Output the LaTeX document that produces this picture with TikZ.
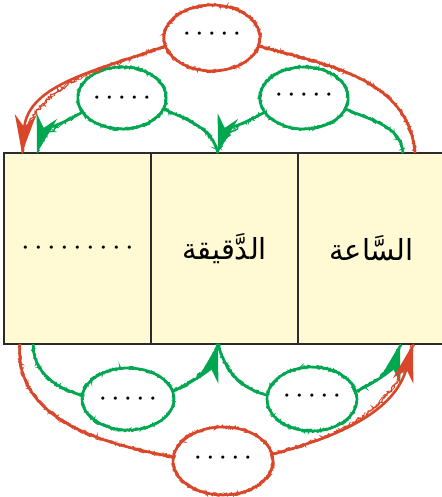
\documentclass[tikz,border=0pt]{standalone}
\usepackage{fontspec}
\newfontfamily\arabicfont[Script=Arabic]{DejaVu Sans}
\TeXXeTstate=1
\usetikzlibrary{shapes.geometric,decorations.pathmorphing,arrows.meta}
\definecolor{myred}{HTML}{D9472B}
\definecolor{mygreen}{HTML}{00A650}
\definecolor{cellfill}{HTML}{FFF9D4}
\definecolor{border}{HTML}{2B2B2B}
\newcommand\bdot[1]{\makebox[#1]{\fontsize{12}{12}\selectfont\textbullet}}
\newcommand\fivedots{\bdot{12.5pt}\bdot{12.5pt}\bdot{12.5pt}\bdot{12.5pt}\bdot{12.5pt}}
\newcommand\ninedots{\bdot{13pt}\bdot{13pt}\bdot{13pt}\bdot{13pt}\bdot{13pt}\bdot{13pt}\bdot{13pt}\bdot{13pt}\bdot{13pt}}
\newcommand\artext[1]{{\arabicfont\fontsize{29}{34}\selectfont\beginR #1\endR}}
\tikzset{
 rough/.style={decorate, decoration={random steps, segment length=1.5pt, amplitude=1.7pt}},
 rough2/.style={decorate, decoration={random steps, segment length=2pt, amplitude=2.1pt}},
 blob/.style={ellipse, inner sep=0pt, line width=2.6pt, postaction={draw, rough, line width=1.2pt}, postaction={draw, rough2, line width=0.7pt}},
 redblob/.style={blob, draw=myred},
 greenblob/.style={blob, draw=mygreen},
 link/.style={line width=2.6pt, postaction={draw, rough, -, line width=1.2pt}, postaction={draw, rough2, -, line width=0.7pt}},
 redlink/.style={link, draw=myred},
 greenlink/.style={link, draw=mygreen},
 tip/.style={-{Stealth[length=38pt,width=21pt,inset=12pt]}},
 cell/.style={rectangle, draw=border, line width=1.4pt, fill=cellfill, minimum width=147pt, minimum height=191pt, inner sep=0pt},
}
\begin{document}
\begin{tikzpicture}[x=1pt,y=1pt]
\useasboundingbox (0,0) rectangle (441,497);
% table cells
\node[cell] (c1) at (77.5,248.5) {\ninedots};
\node[cell] (c2) at (224.5,248.5) {\artext{الدَّقيقة}};
\node[cell] (c3) at (371.5,248.5) {\artext{السَّاعة}};
% end points on the table
\coordinate (rt1) at (415,344);
\coordinate (rt2) at (22,344);
\coordinate (gt1) at (403,344);
\coordinate (gt2) at (218,344);
\coordinate (gt3) at (37,344);
\coordinate (rb1) at (20,153);
\coordinate (rb2) at (413,153);
\coordinate (gb1) at (33,153);
\coordinate (gb2) at (218,153);
\coordinate (gb3) at (400,153);
% ellipses
\node[redblob, minimum width=96pt, minimum height=66pt] (RT) at (212,459) {\raisebox{7pt}{\fivedots}};
\node[greenblob, minimum width=88pt, minimum height=62pt] (GTL) at (122,399) {\fivedots};
\node[greenblob, minimum width=88pt, minimum height=62pt] (GTR) at (304,399) {\raisebox{5pt}{\fivedots}};
\node[greenblob, minimum width=92pt, minimum height=62pt] (GBL) at (128,98) {\fivedots};
\node[greenblob, minimum width=90pt, minimum height=64pt] (GBR) at (312,98) {\raisebox{6pt}{\fivedots}};
\node[redblob, minimum width=100pt, minimum height=68pt] (RB) at (223,36) {\raisebox{6pt}{\fivedots}};
% top connectors
\draw[redlink] (rt1) to[out=95, in=-15] (RT.-10);
\draw[redlink, tip] (RT.190) to[out=200, in=85] (rt2);
\draw[greenlink] (gt1) to[out=95, in=-25] (GTR.-15);
\draw[greenlink, tip] (GTR.200) to[out=210, in=75] (gt2);
\draw[greenlink] (gt2) to[out=105, in=-25] (GTL.-15);
\draw[greenlink, tip] (GTL.200) to[out=210, in=75] (gt3);
% bottom connectors
\draw[greenlink] (gb1) to[out=-90, in=165] (GBL.175);
\draw[greenlink, tip] (GBL.10) to[out=25, in=-105] (gb2);
\draw[greenlink] (gb2) to[out=-75, in=165] (GBR.175);
\draw[greenlink, tip] (GBR.10) to[out=25, in=-105] (gb3);
\draw[redlink] (rb1) to[out=-95, in=170] (RB.175);
\draw[redlink, tip] (RB.8) to[out=15, in=-105] (rb2);
\end{tikzpicture}
\end{document}
